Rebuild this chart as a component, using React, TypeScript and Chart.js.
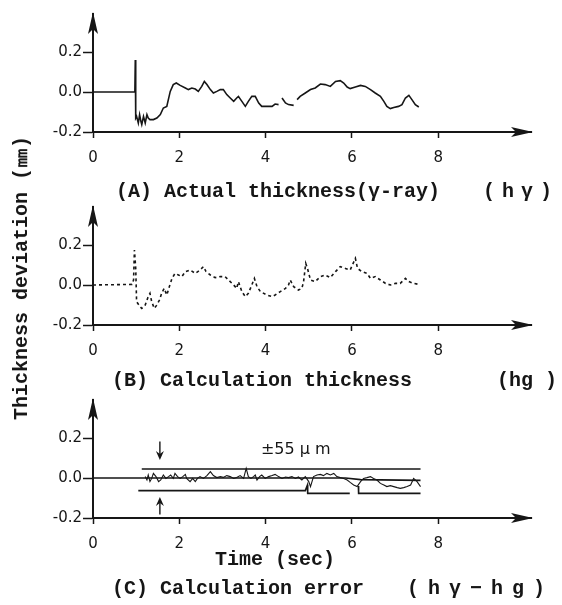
import React, { useEffect, useRef } from "react";
import { Chart, registerables } from "chart.js";

Chart.register(...registerables);

const INK = "#161616";
const X_MAX = 10.15;
const Y_MIN = -0.2;
const Y_MAX = 0.39;

const xTickValues = [0, 2, 4, 6, 8];
const yTickValues = [-0.2, 0, 0.2];

// (A) Actual thickness (gamma-ray)
const timeA = [0, 0.97, 0.98, 0.99, 1.01, 1.05, 1.08, 1.11, 1.13, 1.17, 1.21, 1.25, 1.28, 1.32, 1.4, 1.48, 1.56, 1.63, 1.71, 1.79, 1.86, 1.93, 2.02, 2.14, 2.21, 2.29, 2.37, 2.44, 2.52, 2.58, 2.64, 2.72, 2.79, 2.87, 2.95, 3.02, 3.1, 3.18, 3.26, 3.33, 3.37, 3.45, 3.53, 3.6, 3.68, 3.76, 3.84, 3.91, 4.03, 4.15, 4.22, 4.3, 4.34, 4.38, 4.46, 4.53, 4.65, 4.69, 4.73, 4.8, 4.92, 5.04, 5.15, 5.27, 5.38, 5.5, 5.62, 5.73, 5.81, 5.89, 5.96, 6.08, 6.2, 6.31, 6.43, 6.54, 6.66, 6.74, 6.81, 6.89, 6.97, 7.08, 7.16, 7.24, 7.32, 7.39, 7.47, 7.55];
const thickA: (number | null)[] = [0, 0, 0.16, -0.13, -0.122, -0.155, -0.113, -0.147, -0.163, -0.122, -0.155, -0.113, -0.13, -0.138, -0.138, -0.13, -0.113, -0.08, -0.072, 0.003, 0.037, 0.045, 0.033, 0.02, 0.012, 0.02, 0.015, 0.003, 0.028, 0.053, 0.037, 0.012, -0.005, 0.003, 0.012, 0.012, -0.013, -0.03, -0.047, -0.03, -0.022, -0.047, -0.072, -0.047, -0.022, -0.022, -0.055, -0.072, -0.072, -0.072, -0.06, -0.063, null, -0.03, -0.055, -0.063, -0.067, null, -0.038, -0.022, -0.005, 0.012, 0.02, 0.04, 0.037, 0.028, 0.053, 0.057, 0.045, 0.025, 0.017, 0.025, 0.033, 0.028, 0.012, -0.005, -0.022, -0.047, -0.072, -0.083, -0.077, -0.072, -0.063, -0.03, -0.017, -0.038, -0.063, -0.075];

// (B) Calculation thickness
const timeB = [0, 0.9, 0.94, 0.96, 0.99, 1.01, 1.09, 1.13, 1.21, 1.28, 1.32, 1.36, 1.42, 1.48, 1.54, 1.59, 1.65, 1.71, 1.77, 1.83, 1.9, 1.98, 2.06, 2.14, 2.25, 2.37, 2.48, 2.56, 2.62, 2.72, 2.83, 2.95, 3.06, 3.14, 3.26, 3.33, 3.37, 3.45, 3.53, 3.6, 3.68, 3.74, 3.8, 3.88, 4.03, 4.15, 4.22, 4.34, 4.46, 4.53, 4.57, 4.65, 4.76, 4.84, 4.88, 4.93, 4.97, 5.04, 5.15, 5.27, 5.38, 5.5, 5.62, 5.73, 5.85, 5.96, 6.08, 6.13, 6.23, 6.35, 6.43, 6.54, 6.66, 6.78, 6.89, 7.01, 7.12, 7.24, 7.32, 7.43, 7.55];
const thickB = [0, 0.003, 0.025, 0.175, 0.083, -0.083, -0.108, -0.117, -0.1, -0.058, -0.042, -0.083, -0.117, -0.1, -0.075, -0.042, -0.017, -0.05, -0.008, 0.033, 0.058, 0.05, 0.042, 0.067, 0.075, 0.058, 0.075, 0.092, 0.067, 0.05, 0.037, 0.042, 0.042, 0.025, 0.0, -0.017, 0.017, -0.033, -0.058, -0.042, 0.0, 0.033, -0.008, -0.033, -0.05, -0.058, -0.05, -0.033, -0.017, 0.0, 0.025, -0.008, -0.025, -0.017, 0.017, 0.108, 0.083, 0.025, 0.017, 0.042, 0.05, 0.037, 0.067, 0.092, 0.083, 0.075, 0.133, 0.083, 0.067, 0.058, 0.033, 0.042, 0.025, 0.008, 0.0, 0.008, 0.008, 0.033, 0.017, 0.008, 0.003];

// (C) Calculation error
const timeC = [1.21, 1.25, 1.28, 1.32, 1.36, 1.4, 1.46, 1.52, 1.57, 1.63, 1.69, 1.75, 1.8, 1.86, 1.9, 1.96, 2.02, 2.08, 2.14, 2.17, 2.25, 2.31, 2.37, 2.42, 2.48, 2.56, 2.64, 2.72, 2.79, 2.87, 2.95, 3.02, 3.1, 3.18, 3.26, 3.33, 3.41, 3.49, 3.55, 3.6, 3.66, 3.72, 3.76, 3.8, 3.86, 3.91, 3.99, 4.07, 4.15, 4.22, 4.3, 4.38, 4.46, 4.53, 4.61, 4.69, 4.76, 4.84, 4.92, 5.0, 5.04, 5.11, 5.19, 5.27, 5.34, 5.42, 5.5, 5.58, 5.65, 5.73, 5.81, 5.89, 5.96, 6.04, 6.12, 6.2, 6.27, 6.35, 6.43, 6.5, 6.58, 6.66, 6.74, 6.81, 6.89, 6.97, 7.05, 7.12, 7.2, 7.28, 7.36, 7.43, 7.51, 7.59];
const errorC = [0.007, -0.01, 0.015, -0.018, -0.002, 0.023, 0.007, -0.018, -0.01, 0.015, -0.002, 0.007, 0.015, -0.002, 0.023, 0.007, -0.002, 0.007, 0.018, -0.002, -0.018, -0.002, -0.018, -0.002, 0.007, -0.002, 0.012, 0.032, 0.012, 0.002, 0.007, 0.003, 0.012, 0.007, -0.002, 0.003, 0.012, -0.002, 0.048, 0.007, -0.002, 0.007, 0.015, -0.01, 0.007, 0.015, -0.002, 0.007, 0.012, 0.018, 0.007, -0.002, 0.005, 0.002, 0.007, -0.002, 0.005, -0.01, 0.007, -0.018, -0.043, 0.007, 0.015, 0.018, 0.012, 0.023, 0.015, 0.023, 0.007, 0.002, -0.002, -0.01, -0.022, -0.035, -0.043, -0.018, -0.002, 0.002, 0.007, -0.002, -0.01, -0.027, -0.035, -0.043, -0.038, -0.043, -0.048, -0.052, -0.048, -0.043, -0.035, -0.002, -0.018, -0.043];

const zeroT = [0, 5.85, 6.2, 7.59];
const zeroV = [0, 0, -0.008, -0.012];
const upperBandT = [1.13, 7.59];
const upperBandV = [0.045, 0.045];
const lowerBandT = [1.05, 4.92, 4.97, 4.975, 5.95, 6.05, 6.15, 6.155, 7.59];
const lowerBandV: (number | null)[] = [-0.063, -0.063, -0.035, -0.077, -0.077, null, -0.04, -0.077, -0.077];

const bandLabel = "±55 μ m";
const bandArrowT = 1.55;
const downArrowV = [0.183, 0.09];
const upArrowV = [-0.183, -0.095];
const bandLabelT = 4.7;
const bandLabelV = 0.142;

function pts(ts: number[], vs: (number | null)[]) {
  return ts.map((t, i) => ({ x: t, y: vs[i] }));
}

function lineSet(data: any[], extra: any = {}) {
  return {
    data,
    borderColor: INK,
    borderWidth: 1.4,
    pointRadius: 0,
    tension: 0,
    fill: false,
    spanGaps: false,
    ...extra,
  };
}

const axisArrows = {
  id: "axisArrows",
  afterDraw(chart: any) {
    const { ctx } = chart;
    const { left, right, top, bottom } = chart.chartArea;
    ctx.save();
    ctx.fillStyle = INK;
    ctx.beginPath();
    ctx.moveTo(right + 2, bottom);
    ctx.lineTo(right - 20, bottom - 5);
    ctx.lineTo(right - 15, bottom);
    ctx.lineTo(right - 20, bottom + 5);
    ctx.closePath();
    ctx.fill();
    ctx.beginPath();
    ctx.moveTo(left, top - 2);
    ctx.lineTo(left - 5, top + 20);
    ctx.lineTo(left, top + 15);
    ctx.lineTo(left + 5, top + 20);
    ctx.closePath();
    ctx.fill();
    ctx.restore();
  },
};

function drawArrow(ctx: any, x: number, y0: number, y1: number) {
  const dir = y1 > y0 ? 1 : -1;
  ctx.beginPath();
  ctx.moveTo(x, y0);
  ctx.lineTo(x, y1 - dir * 6);
  ctx.stroke();
  ctx.beginPath();
  ctx.moveTo(x, y1);
  ctx.lineTo(x - 4, y1 - dir * 9);
  ctx.lineTo(x, y1 - dir * 6);
  ctx.lineTo(x + 4, y1 - dir * 9);
  ctx.closePath();
  ctx.fill();
}

const bandNotes = {
  id: "bandNotes",
  afterDatasetsDraw(chart: any) {
    const { ctx } = chart;
    const xs = chart.scales.x;
    const ys = chart.scales.y;
    ctx.save();
    ctx.strokeStyle = INK;
    ctx.fillStyle = INK;
    ctx.lineWidth = 1.4;
    const ax = xs.getPixelForValue(bandArrowT);
    drawArrow(ctx, ax, ys.getPixelForValue(downArrowV[0]), ys.getPixelForValue(downArrowV[1]));
    drawArrow(ctx, ax, ys.getPixelForValue(upArrowV[0]), ys.getPixelForValue(upArrowV[1]));
    ctx.font = '16px "DejaVu Sans"';
    ctx.textAlign = "center";
    ctx.textBaseline = "middle";
    ctx.fillText(bandLabel, xs.getPixelForValue(bandLabelT), ys.getPixelForValue(bandLabelV));
    ctx.restore();
  },
};

function buildOptions(): any {
  const tickFont = { family: '"DejaVu Sans", sans-serif', size: 15 };
  return {
    animation: false,
    responsive: false,
    maintainAspectRatio: false,
    layout: { padding: { left: 0, right: 31, top: 14, bottom: 0 } },
    plugins: { legend: { display: false }, tooltip: { enabled: false }, title: { display: false } },
    elements: { point: { radius: 0 } },
    scales: {
      x: {
        type: "linear",
        min: 0,
        max: X_MAX,
        afterBuildTicks: (s: any) => {
          s.ticks = xTickValues.map((v) => ({ value: v }));
        },
        afterFit: (s: any) => {
          s.height = 43;
        },
        grid: { drawOnChartArea: false, drawTicks: true, tickLength: 6, tickWidth: 1.5, tickColor: INK },
        border: { display: true, color: INK, width: 2 },
        ticks: {
          color: INK,
          font: tickFont,
          padding: 11,
          maxRotation: 0,
          autoSkip: false,
          callback: (v: any) => String(v),
        },
      },
      y: {
        type: "linear",
        min: Y_MIN,
        max: Y_MAX,
        afterBuildTicks: (s: any) => {
          s.ticks = yTickValues.map((v) => ({ value: v }));
        },
        afterFit: (s: any) => {
          s.width = 93;
        },
        grid: { drawOnChartArea: false, drawTicks: true, tickLength: 10, tickWidth: 1.5, tickColor: INK },
        border: { display: true, color: INK, width: 2 },
        ticks: {
          color: INK,
          font: tickFont,
          padding: 1,
          autoSkip: false,
          callback: (v: any) => Number(v).toFixed(1),
        },
      },
    },
  };
}

function Panel(props: { top: number; makeDatasets: () => any[]; extraPlugins?: any[] }) {
  const ref = useRef<HTMLCanvasElement | null>(null);
  useEffect(() => {
    const chart = new Chart(ref.current as HTMLCanvasElement, {
      type: "line",
      data: { datasets: props.makeDatasets() },
      options: buildOptions(),
      plugins: [axisArrows, ...(props.extraPlugins || [])],
    } as any);
    return () => chart.destroy();
  }, []);
  return (
    <canvas
      ref={ref}
      width={562}
      height={175}
      style={{ position: "absolute", left: 0, top: props.top, width: 562, height: 175 }}
    />
  );
}

const titleFont: React.CSSProperties = {
  position: "absolute",
  fontFamily: '"Liberation Mono", "DejaVu Sans Mono", monospace',
  fontWeight: "bold",
  fontSize: 20,
  lineHeight: "20px",
  color: INK,
  whiteSpace: "pre",
};

export default function App() {
  return (
    <div
      style={{
        position: "absolute",
        left: 0,
        top: 0,
        width: 562,
        height: 605,
        background: "#ffffff",
        overflow: "hidden",
      }}
    >
      <Panel top={0} makeDatasets={() => [lineSet(pts(timeA, thickA), { borderWidth: 1.6 })]} />
      <Panel top={193} makeDatasets={() => [lineSet(pts(timeB, thickB), { borderWidth: 1.6, borderDash: [3, 3] })]} />
      <Panel
        top={386}
        makeDatasets={() => [
          lineSet(pts(zeroT, zeroV), { borderWidth: 1.6 }),
          lineSet(pts(upperBandT, upperBandV), { borderWidth: 1.6 }),
          lineSet(pts(lowerBandT, lowerBandV), { borderWidth: 1.6 }),
          lineSet(pts(timeC, errorC), { borderWidth: 1.1 }),
        ]}
        extraPlugins={[bandNotes]}
      />

      <div style={{ ...titleFont, left: 116, top: 182 }}>(A) Actual thickness(γ-ray)</div>
      <div style={{ ...titleFont, left: 483, top: 182, letterSpacing: 7 }}>(hγ)</div>

      <div style={{ ...titleFont, left: 112, top: 371 }}>(B) Calculation thickness</div>
      <div style={{ ...titleFont, left: 497, top: 371 }}>(hg )</div>

      <div style={{ ...titleFont, left: 275, top: 550, transform: "translateX(-50%)" }}>Time (sec)</div>

      <div style={{ ...titleFont, left: 112, top: 579 }}>(C) Calculation error</div>
      <div style={{ ...titleFont, left: 407, top: 579, letterSpacing: 9 }}>(hγ−hg)</div>

      <div
        style={{
          ...titleFont,
          left: 22,
          top: 278,
          transform: "translate(-50%, -50%) rotate(-90deg)",
        }}
      >
        Thickness deviation (㎜)
      </div>
    </div>
  );
}
